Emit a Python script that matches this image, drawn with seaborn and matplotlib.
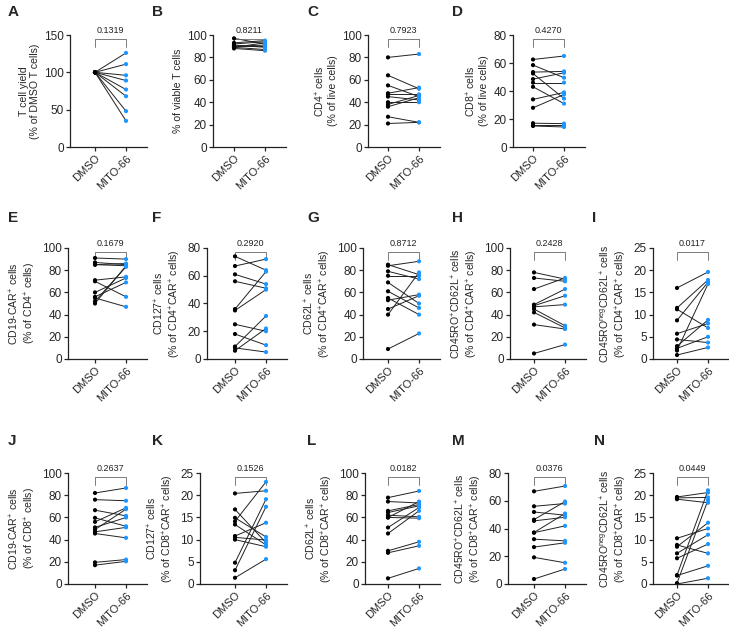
import matplotlib
matplotlib.use("Agg")
import matplotlib.pyplot as plt
import matplotlib.transforms as mtransforms
import seaborn as sns
import pandas as pd

sns.set_theme(style="ticks")
plt.rcParams['font.family'] = ['Liberation Sans', 'DejaVu Sans']
plt.rcParams['mathtext.fontset'] = 'custom'
plt.rcParams['mathtext.rm'] = 'Liberation Sans'
plt.rcParams['mathtext.it'] = 'Liberation Sans:italic'
plt.rcParams['mathtext.bf'] = 'Liberation Sans:bold'

conditions = ["DMSO", "MITO-66"]
panels = ["A", "B", "C", "D", "E", "F", "G", "H", "I", "J", "K", "L", "M", "N"]

A_dmso = [100, 100, 100, 100, 100, 100, 100, 100]
A_mito = [126, 111, 96, 89, 77, 68, 48, 35]
B_dmso = [97, 93, 92, 91, 90, 90, 89, 89, 88]
B_mito = [92, 95, 94, 89, 91, 90, 87, 93, 86]
C_dmso = [80, 64, 55, 48, 47, 45, 40, 38, 36, 27, 21]
C_mito = [83, 52, 45, 53, 47, 42, 40, 46, 44, 22, 22]
D_dmso = [62.5, 58.5, 53.5, 52.5, 48.5, 46, 43, 34, 28, 17, 15.5, 15]
D_mito = [65, 49.5, 54, 34.6, 53, 46, 31, 39, 37.5, 16.7, 15.5, 14.3]
E_dmso = [91, 87, 85, 85, 71, 70, 60, 56, 55, 52, 50]
E_mito = [90, 85, 84, 86, 74, 56, 73, 69, 47, 83, 84]
F_dmso = [74, 67, 61, 56, 36, 35, 25, 18, 9, 8, 6]
F_mito = [64, 72, 54, 51, 63, 50, 20, 10, 31, 5, 22]
G_dmso = [85, 84, 79, 75, 69, 61, 55, 53, 45, 40, 9]
G_mito = [76, 88, 72, 75, 50, 46, 40, 58, 57, 78, 23]
H_dmso = [78, 73, 63, 49, 48, 47, 45, 42, 31, 5]
H_mito = [72, 70, 73, 63, 57, 49, 30, 28, 27, 13]
I_dmso = [16, 11.5, 11.2, 8.7, 5.7, 4.4, 2.9, 2.4, 1.9, 0.9]
I_mito = [19.6, 17.8, 7.0, 17.3, 8.0, 3.7, 8.8, 5.0, 16.9, 2.6]
J_dmso = [82, 76, 66.5, 59.6, 56, 51, 49, 47, 45.5, 19.5, 17]
J_mito = [86.5, 75, 61.4, 52, 68.6, 59.9, 67.4, 51, 41.6, 22, 20.4]
K_dmso = [20.4, 16.8, 14.9, 14.1, 13.4, 10.8, 10.5, 10, 4.8, 3.1, 1.4]
K_mito = [21, 9.3, 10.6, 23, 8.8, 13.8, 9.9, 8.4, 19.1, 17.4, 5.6]
L_dmso = [77.8, 74.3, 65.9, 64.4, 62, 60, 59.9, 50.9, 45.5, 29.9, 28.1, 5.1]
L_mito = [83.8, 73, 71.6, 70.4, 60.5, 59.3, 74.3, 68.9, 65.9, 38, 34.4, 14]
M_dmso = [66.8, 56, 51.9, 46.4, 45.5, 37.1, 37, 32.3, 26.6, 19.2, 3.6]
M_mito = [70.6, 58, 49.6, 59.4, 48.1, 50.8, 41.9, 31.1, 29.7, 15.3, 10.8]
N_dmso = [19.6, 19.4, 19.1, 10.3, 8.8, 8.4, 6.9, 5.8, 2.0, 1.9, 0, 0.2]
N_mito = [20.6, 19.5, 18.3, 12.5, 6.9, 13.8, 11.1, 9.0, 21.1, 4.1, 1.3, 18.9]

p_values = ["0.1319", "0.8211", "0.7923", "0.4270", "0.1679", "0.2920", "0.8712",
            "0.2428", "0.0117", "0.2637", "0.1526", "0.0182", "0.0376", "0.0449"]

y_labels = [
    "T cell yield\n(% of DMSO T cells)",
    "% of viable T cells",
    "CD4$^{+}$ cells\n(% of live cells)",
    "CD8$^{+}$ cells\n(% of live cells)",
    "CD19-CAR$^{+}$ cells\n(% of CD4$^{+}$ cells)",
    "CD127$^{+}$ cells\n(% of CD4$^{+}$CAR$^{+}$ cells)",
    "CD62L$^{+}$ cells\n(% of CD4$^{+}$CAR$^{+}$ cells)",
    "CD45RO$^{+}$CD62L$^{+}$ cells\n(% of CD4$^{+}$CAR$^{+}$ cells)",
    "CD45RO$^{\\mathrm{neg}}$CD62L$^{+}$ cells\n(% of CD4$^{+}$CAR$^{+}$ cells)",
    "CD19-CAR$^{+}$ cells\n(% of CD8$^{+}$ cells)",
    "CD127$^{+}$ cells\n(% of CD8$^{+}$CAR$^{+}$ cells)",
    "CD62L$^{+}$ cells\n(% of CD8$^{+}$CAR$^{+}$ cells)",
    "CD45RO$^{+}$CD62L$^{+}$ cells\n(% of CD8$^{+}$CAR$^{+}$ cells)",
    "CD45RO$^{\\mathrm{neg}}$CD62L$^{+}$ cells\n(% of CD8$^{+}$CAR$^{+}$ cells)",
]

y_max = [150, 100, 100, 80, 100, 80, 100, 100, 25, 100, 25, 100, 80, 25]
y_step = [50, 20, 20, 20, 20, 20, 20, 20, 5, 20, 5, 20, 20, 5]

series = [(A_dmso, A_mito), (B_dmso, B_mito), (C_dmso, C_mito), (D_dmso, D_mito),
          (E_dmso, E_mito), (F_dmso, F_mito), (G_dmso, G_mito), (H_dmso, H_mito),
          (I_dmso, I_mito), (J_dmso, J_mito), (K_dmso, K_mito), (L_dmso, L_mito),
          (M_dmso, M_mito), (N_dmso, N_mito)]

# layout (pixels): axes left edge, DMSO x, axes top, axes bottom
W, H = 729, 635
layout = [
    (70, 95, 35, 147), (213, 234, 35, 147), (368, 388, 35, 147), (513, 533, 35, 147),
    (68, 95, 248, 359), (207, 235, 248, 359), (363, 388, 248, 359), (510, 534, 248, 359), (653, 677, 248, 359),
    (68, 95, 473, 584), (200, 235, 473, 584), (365, 388, 473, 584), (508, 534, 473, 584), (653, 677, 473, 584),
]
letter_pos = [(8, 12), (152, 12), (307, 12), (452, 12),
              (8, 218), (152, 218), (307, 218), (452, 218), (592, 218),
              (8, 441), (152, 441), (307, 441), (452, 441), (594, 441)]

BLUE = "#1E96FF"
SPACING = 31

fig = plt.figure(figsize=(W / 100, H / 100), dpi=100)

for i, name in enumerate(panels):
    left, dmx, top, bot = layout[i]
    right = dmx + SPACING + 21
    ax = fig.add_axes([left / W, 1 - bot / H, (right - left) / W, (bot - top) / H])
    d, m = series[i]
    n = len(d)
    df = pd.DataFrame({
        "id": list(range(n)) * 2,
        "cond": [conditions[0]] * n + [conditions[1]] * n,
        "val": list(d) + list(m),
    })
    sns.lineplot(data=df, x="cond", y="val", units="id", estimator=None,
                 color="#222222", linewidth=0.7, ax=ax, legend=False)
    sns.scatterplot(data=df, x="cond", y="val", hue="cond",
                    palette={conditions[0]: "black", conditions[1]: BLUE},
                    s=9, linewidth=0, ax=ax, legend=False, zorder=3)
    ax.set_xlim((left - dmx) / SPACING, (right - dmx) / SPACING)
    ax.set_ylim(0, y_max[i])
    ax.set_yticks(list(range(0, y_max[i] + 1, y_step[i])))
    ax.set_xlabel("")
    ax.set_ylabel(y_labels[i], fontsize=7.6, labelpad=3, linespacing=1.15)
    ax.tick_params(axis="y", labelsize=8.5, length=3, width=0.9, pad=1.5)
    ax.tick_params(axis="x", labelsize=8, length=3, width=0.9, pad=1.5)
    for lab in ax.get_xticklabels():
        lab.set_rotation(45)
        lab.set_ha("right")
        lab.set_rotation_mode("anchor")
    sns.despine(ax=ax)
    for sp in ("left", "bottom"):
        ax.spines[sp].set_linewidth(0.9)
        ax.spines[sp].set_color("#222222")
    # bracket with p-value
    trans = mtransforms.blended_transform_factory(ax.transData, ax.transAxes)
    ax.plot([0, 0, 1, 1], [0.89, 0.96, 0.96, 0.89], transform=trans,
            color="#666666", linewidth=0.6, clip_on=False)
    ax.text(0.5, 1.0, p_values[i], transform=trans, ha="center", va="bottom",
            fontsize=6.5, color="#222222")
    fig.text(letter_pos[i][0] / W, 1 - letter_pos[i][1] / H, name,
             fontsize=11, fontweight="bold", ha="left", va="center")

fig.savefig("out.png", dpi=100)
